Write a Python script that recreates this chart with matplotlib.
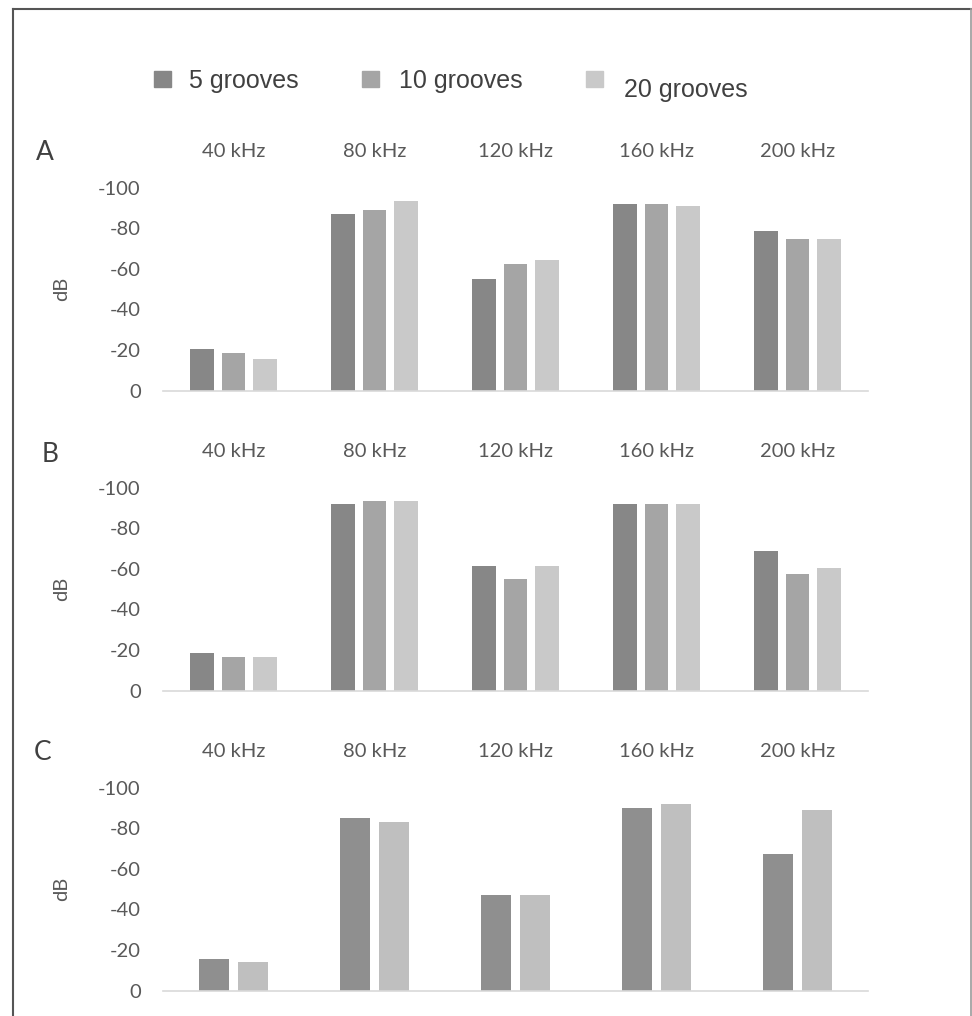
import matplotlib.pyplot as plt  # noqa
import numpy as np
from matplotlib.lines import Line2D
from matplotlib.patches import Rectangle

plt.rcParams['axes.unicode_minus'] = False
plt.rcParams['font.family'] = ['Lato', 'DejaVu Sans']

freqs = ["40 kHz", "80 kHz", "120 kHz", "160 kHz", "200 kHz"]
series = ["5 grooves", "10 grooves", "20 grooves"]

a_5 = [-20.3, -86.9, -55.2, -92.1, -78.9]
a_10 = [-18.4, -89.2, -62.3, -92.1, -74.8]
a_20 = [-15.4, -93.3, -64.6, -91.0, -74.8]

b_5 = [-18.4, -92.1, -61.5, -92.1, -68.7]
b_10 = [-16.4, -93.3, -55.2, -92.1, -57.4]
b_20 = [-16.4, -93.3, -61.5, -92.1, -60.3]

c_5 = [-15.4, -85.1, -47.0, -90.2, -67.5]
c_20 = [-14.3, -83.0, -47.0, -92.1, -89.2]

y_ticks = [0, -20, -40, -60, -80, -100]

grey3 = ["#878787", "#a5a5a5", "#c9c9c9"]
grey2 = ["#8f8f8f", "#bfbfbf"]
txt_grey = "#595959"

W, H = 972, 1016
fig = plt.figure(figsize=(W / 100, H / 100), dpi=100)


def panel(bottom_px, data, colors, width, step, letter, letter_xy):
    """One grouped bar panel, axis reversed so 0 sits at the bottom."""
    ax = fig.add_axes([163 / W, 1 - bottom_px / H, 705 / W, 203 / H])
    x = np.arange(len(freqs))
    n = len(data)
    for i, (vals, col) in enumerate(zip(data, colors)):
        off = (i - (n - 1) / 2) * step
        ax.bar(x + off, vals, width=width, color=col, linewidth=0)
    ax.set_xlim(-0.5, len(freqs) - 0.5)
    ax.set_ylim(0, -100)
    ax.set_yticks(y_ticks)
    ax.set_yticklabels([str(t) for t in y_ticks])
    ax.set_xticks(x)
    ax.set_xticklabels(freqs)
    ax.xaxis.tick_top()
    ax.tick_params(axis='x', length=0, pad=20, labelsize=14.5, colors=txt_grey)
    ax.tick_params(axis='y', length=0, pad=16, labelsize=14.5, colors=txt_grey)
    for s in ["top", "left", "right"]:
        ax.spines[s].set_visible(False)
    ax.spines["bottom"].set_color("#d9d9d9")
    ax.spines["bottom"].set_linewidth(1.2)
    ax.set_ylabel("dB", fontsize=14.5, color=txt_grey)
    ax.yaxis.set_label_coords(-0.132, 0.5)
    fig.text(letter_xy[0] / W, 1 - letter_xy[1] / H, letter, fontsize=19,
             color="#404040", ha="left", va="center")
    return ax


panel(390.7, [a_5, a_10, a_20], grey3, 0.17, 0.222, "A", (36, 152))
panel(690.7, [b_5, b_10, b_20], grey3, 0.17, 0.222, "B", (42, 455))
panel(990.7, [c_5, c_20], grey2, 0.215, 0.28, "C", (34, 753))

# legend drawn by hand, the last label sits a little lower as in the source
leg_sq = [154, 362, 586]
leg_tx = [189, 399, 624]
leg_dy = [0, 0, 9]
for name, col, sx, tx, dy in zip(series, grey3, leg_sq, leg_tx, leg_dy):
    fig.patches.append(Rectangle((sx / W, 1 - 87 / H), 17 / W, 16 / H,
                                 transform=fig.transFigure, color=col))
    fig.text(tx / W, 1 - (81 + dy) / H, name, fontsize=18,
             family=['Liberation Sans', 'DejaVu Sans'], color="#404040",
             ha="left", va="center")

# outer frame (left and top dark, right lighter, no bottom)
fig.add_artist(Line2D([12.5 / W, 12.5 / W], [0, 1 - 8.5 / H],
                      transform=fig.transFigure, color="#555555", lw=1.5))
fig.add_artist(Line2D([12.5 / W, 971 / W], [1 - 8.5 / H, 1 - 8.5 / H],
                      transform=fig.transFigure, color="#555555", lw=1.5))
fig.add_artist(Line2D([970.5 / W, 970.5 / W], [0, 1 - 8.5 / H],
                      transform=fig.transFigure, color="#9a9a9a", lw=1.2))

fig.savefig("out.png", dpi=100)
